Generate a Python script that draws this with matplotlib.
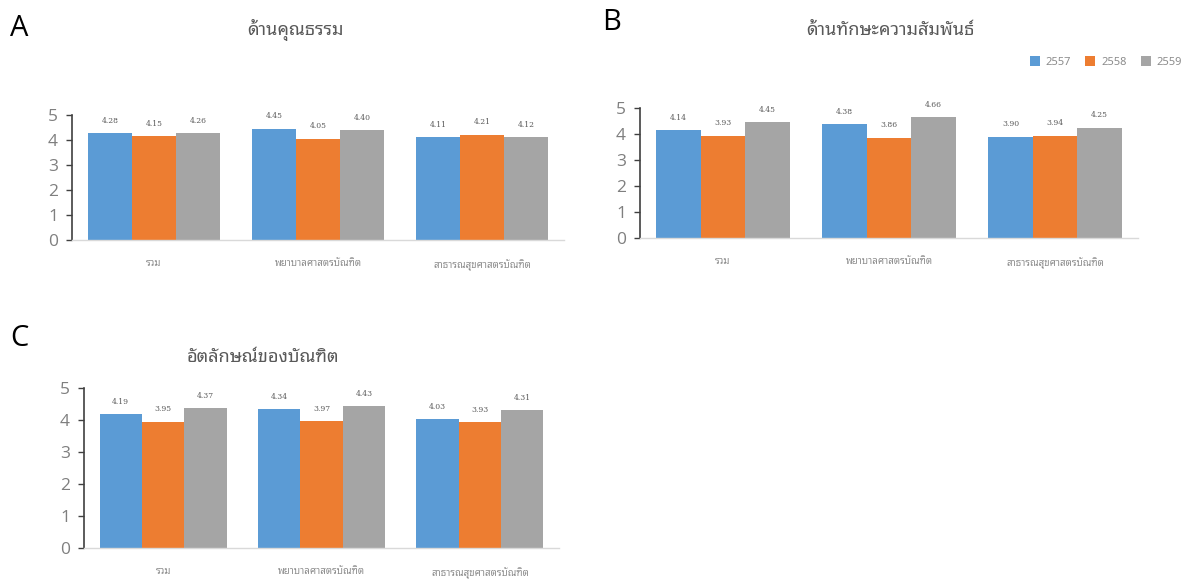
import matplotlib
matplotlib.use('Agg')
import matplotlib.pyplot as plt
import numpy as np

plt.rcParams['font.family'] = ['Noto Sans Thai Looped', 'DejaVu Sans']

# data
years = ['2557', '2558', '2559']
categories = ['รวม', 'พยาบาลศาสตรบัณฑิต', 'สาธารณสุขศาสตรบัณฑิต']
colors = ['#5B9BD5', '#ED7D31', '#A5A5A5']

titles = ['ด้านคุณธรรม', 'ด้านทักษะความสัมพันธ์', 'อัตลักษณ์ของบัณฑิต']
letters = ['A', 'B', 'C']

# rows = year, cols = category
vals_a = [[4.28, 4.45, 4.11],
          [4.15, 4.05, 4.21],
          [4.26, 4.40, 4.12]]
vals_b = [[4.14, 4.38, 3.90],
          [3.93, 3.86, 3.94],
          [4.45, 4.66, 4.25]]
vals_c = [[4.19, 4.34, 4.03],
          [3.95, 3.97, 3.93],
          [4.37, 4.43, 4.31]]

W, H = 1195, 579
fig = plt.figure(figsize=(W / 100, H / 100), dpi=100)

def px_axes(left, right, bottom, top):
    return fig.add_axes([left / W, 1 - bottom / H, (right - left) / W, (bottom - top) / H])

def draw(ax, vals):
    x = np.arange(len(categories))
    w = 0.268
    bars = []
    for i, yr in enumerate(years):
        b = ax.bar(x + (i - 1) * w, vals[i], w, color=colors[i], label=yr)
        bars.append(b)
        for xi, v in zip(x + (i - 1) * w, vals[i]):
            ax.annotate('%.2f' % v, (xi, v), xytext=(0, 6), textcoords='offset points',
                        ha='center', va='bottom', fontsize=5.5, color='#595959',
                        family='DejaVu Serif')
    ax.set_xlim(-0.5, 2.5)
    ax.set_ylim(0, 5)
    ax.set_yticks(range(6))
    ax.set_xticks(x)
    ax.set_xticklabels(categories, fontsize=7, color='#8c8c8c')
    ax.tick_params(axis='x', length=0, pad=14)
    ax.tick_params(axis='y', length=4, width=1, color='#404040', labelsize=12.5,
                   labelcolor='#7f7f7f', pad=6)
    for lab in ax.get_yticklabels():
        lab.set_family('Open Sans')
    for s in ['top', 'right']:
        ax.spines[s].set_visible(False)
    ax.spines['left'].set_color('#404040')
    ax.spines['left'].set_linewidth(1.2)
    ax.spines['bottom'].set_color('#D9D9D9')
    ax.spines['bottom'].set_linewidth(1)
    return bars

ax_a = px_axes(72, 564, 240, 115)
draw(ax_a, vals_a)
ax_b = px_axes(640, 1138, 238, 108)
bars_b = draw(ax_b, vals_b)
ax_c = px_axes(84, 559, 548, 388)
draw(ax_c, vals_c)

# titles and panel letters
tkw = dict(ha='center', va='center', fontsize=13, color='#595959', fontweight='light')
fig.text(295 / W, 1 - 30 / H, titles[0], **tkw)
fig.text(890 / W, 1 - 30 / H, titles[1], **tkw)
fig.text(263 / W, 1 - 357 / H, titles[2], **tkw)

fig.text(19 / W, 1 - 28 / H, letters[0], ha='center', va='center', fontsize=21, family='Open Sans')
fig.text(612 / W, 1 - 22 / H, letters[1], ha='center', va='center', fontsize=21, family='Open Sans')
fig.text(19 / W, 1 - 338 / H, letters[2], ha='center', va='center', fontsize=21, family='Open Sans')

fig.legend(handles=bars_b, labels=years, loc='center right', ncol=3,
           bbox_to_anchor=(1192 / W, 1 - 62 / H), frameon=False, fontsize=8,
           handlelength=0.9, handleheight=0.9, handletextpad=0.5, columnspacing=1.3,
           labelcolor='#8c8c8c')

fig.savefig('out.png', dpi=100)
